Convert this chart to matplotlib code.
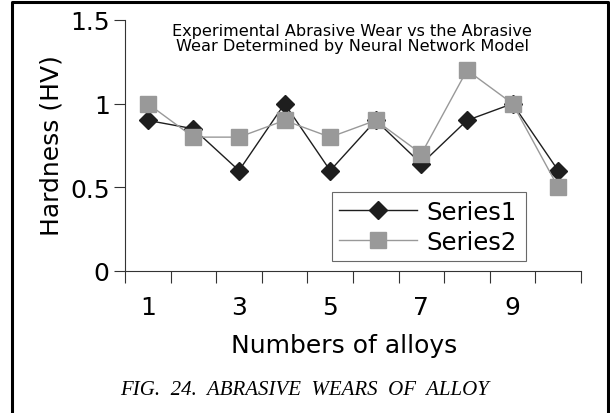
import numpy as np
import matplotlib.pyplot as plt
from matplotlib.lines import Line2D

# data
alloys = [1, 2, 3, 4, 5, 6, 7, 8, 9, 10]
series1 = [0.9, 0.85, 0.6, 1.0, 0.6, 0.9, 0.64, 0.9, 1.0, 0.6]
series2 = [1.0, 0.8, 0.8, 0.9, 0.8, 0.9, 0.7, 1.2, 1.0, 0.5]
xtick_labels = ['1', '3', '5', '7', '9']

# the original text is wide, DejaVu Sans fits it better than Arial metrics
plt.rcParams['font.family'] = ['DejaVu Sans']

W, H = 610, 414
fig = plt.figure(figsize=(W / 100, H / 100), dpi=100)
ax = fig.add_axes([125 / W, (H - 272) / H, 456 / W, 251 / H])

ax.plot(alloys, series1, color='#1e1e1e', lw=1.0, marker='D', ms=9.5,
        mfc='#1e1e1e', mec='#1e1e1e', zorder=3)
ax.plot(alloys, series2, color='#999999', lw=1.0, marker='s', ms=12,
        mfc='#999999', mec='#999999', zorder=4)

ax.set_xlim(0.5, 10.5)
ax.set_ylim(0, 1.5)
ax.set_yticks([0, 0.5, 1, 1.5])
ax.set_yticklabels(['0', '0.5', '1', '1.5'])
ax.set_xticks([1, 3, 5, 7, 9])
ax.set_xticklabels(xtick_labels)
ax.set_xticks(np.arange(0.5, 11, 1), minor=True)
ax.tick_params(axis='x', which='major', length=0, pad=17, labelsize=18)
ax.tick_params(axis='x', which='minor', length=8.5, width=0.8, color='#333333')
ax.tick_params(axis='y', length=8, width=0.8, color='#333333', pad=3, labelsize=18)

for s in ['top', 'right']:
    ax.spines[s].set_visible(False)
for s in ['left', 'bottom']:
    ax.spines[s].set_linewidth(0.8)
    ax.spines[s].set_color('#333333')

fig.text(52 / W, 1 - 146 / H, 'Hardness (HV)', fontsize=18, rotation=90,
         ha='center', va='center')
fig.text(344 / W, 1 - 346 / H, 'Numbers of alloys', fontsize=18,
         ha='center', va='center')

# two-line note inside the plot
fig.text(352 / W, 1 - 39 / H,
         'Experimental Abrasive Wear vs the Abrasive\n'
         'Wear Determined by Neural Network Model',
         ha='center', va='center', fontsize=11.6, linespacing=1.0)

handles = [Line2D([], [], color='#1e1e1e', lw=1.0, marker='D', ms=9.5),
           Line2D([], [], color='#999999', lw=1.0, marker='s', ms=12)]
leg = ax.legend(handles, ['Series1', 'Series2'], loc='lower left',
                bbox_to_anchor=(332 / W, 1 - 262 / H, 194 / W, 69 / H),
                bbox_transform=fig.transFigure, mode='expand',
                fontsize=17.5, frameon=True, fancybox=False, handlelength=3.2,
                borderpad=0.3, labelspacing=0.25, handletextpad=0.4,
                borderaxespad=0)
leg.get_frame().set_edgecolor('#444444')
leg.get_frame().set_linewidth(0.8)

fig.text(305 / W, 1 - 391 / H, 'FIG.  24.  ABRASIVE  WEARS  OF  ALLOY',
         family='Liberation Serif', style='italic', fontsize=15,
         ha='center', va='center')

# outer frame (no bottom edge)
fx = [12 / W, 12 / W, 608 / W, 608 / W]
fy = [0, 1 - 3 / H, 1 - 3 / H, 0]
fig.add_artist(Line2D(fx, fy, color='black', lw=2.2, transform=fig.transFigure))

fig.savefig('out.png', dpi=100)
